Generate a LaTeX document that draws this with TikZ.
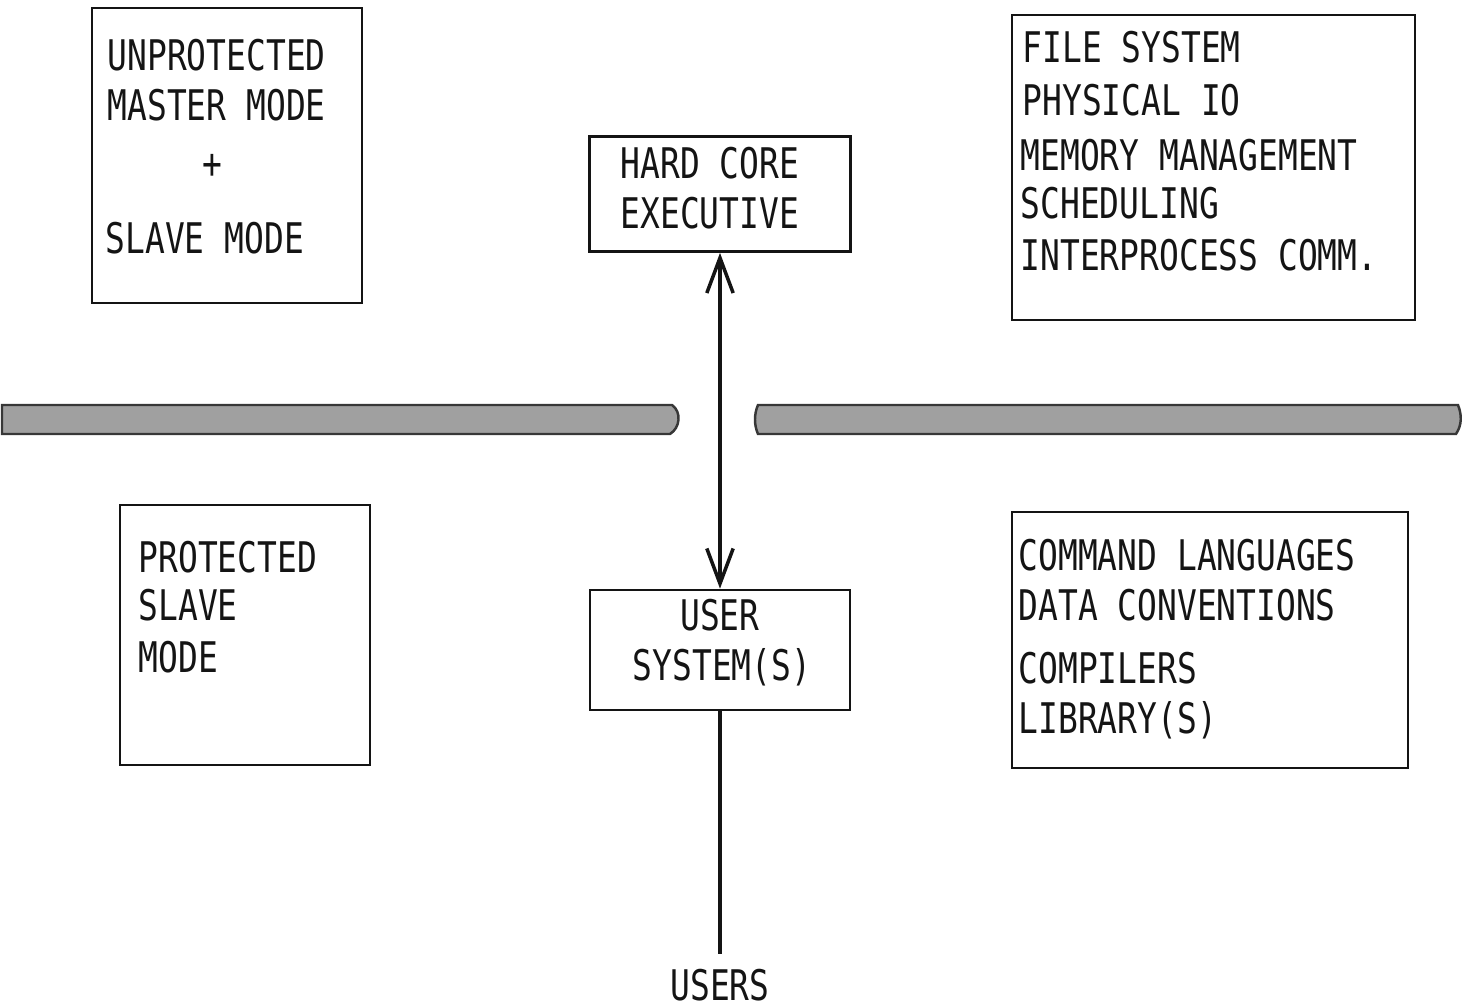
\documentclass[tikz,border=0pt]{standalone}
\usepackage{fontspec}
\setmainfont{DejaVu Sans Mono}[FakeStretch=0.78]
\usepackage{tikz}
\usetikzlibrary{calc}
\usetikzlibrary{arrows.meta}
\usetikzlibrary{positioning}
\definecolor{ink}{RGB}{20, 20, 20}
\definecolor{shade}{RGB}{160, 160, 160}

\tikzset{
    blockbox/.style={draw=ink, line width=0.75pt, inner sep=0pt},
    label/.style={anchor=base west, inner sep=0pt, text=ink,
                  font=\fontsize{12}{14}\selectfont},
    barrier/.style={draw=ink!85, line width=0.7pt, fill=shade},
}

\begin{document}
\begin{tikzpicture}[x=0.01cm, y=-0.01cm]
            % Frame
            \useasboundingbox (0, 0) rectangle (1462, 1005);
            % Master mode box (upper left)
            \draw[ink, line width=0.75pt]                 (  92,   8) rectangle ( 362, 303);
            \node[label] (unprot) at ( 107,  70) {UNPROTECTED};
            \node[label] (master) at ( 107, 120) {MASTER MODE};
            \node[label, anchor=base] (plus) at ( 212, 178) {+};
            \node[label] (slave)  at ( 105, 253) {SLAVE MODE};
            % Executive services box (upper right)
            \draw[ink, line width=0.75pt]                 (1012,  15) rectangle (1415, 320);
            \node[label] (files)  at (1022,  62) {FILE SYSTEM};
            \node[label] (physio) at (1022, 115) {PHYSICAL IO};
            \node[label] (memory) at (1020, 170) {MEMORY MANAGEMENT};
            \node[label] (sched)  at (1020, 218) {SCHEDULING};
            \node[label] (ipc)    at (1020, 270) {INTERPROCESS COMM.};
            % Slave mode box (lower left)
            \draw[ink, line width=0.75pt]                 ( 120, 505) rectangle ( 370, 765);
            \node[label] (protd)  at ( 138, 572) {PROTECTED};
            \node[label] (pslave) at ( 138, 620) {SLAVE};
            \node[label] (pmode)  at ( 138, 672) {MODE};
            % User services box (lower right)
            \draw[ink, line width=0.75pt]                 (1012, 512) rectangle (1408, 768);
            \node[label] (cmdlang) at (1018, 570) {COMMAND LANGUAGES};
            \node[label] (dataconv) at (1018, 620) {DATA CONVENTIONS};
            \node[label] (compil)  at (1018, 683) {COMPILERS};
            \node[label] (libs)    at (1018, 733) {LIBRARY(S)};
            % Protection barrier
            \draw[barrier] (   2, 405) -- ( 672, 405) .. controls ( 682, 412) and ( 680, 428) .. ( 670, 434)
                           -- (   2, 434) -- cycle;
            \draw[barrier] ( 758, 405) -- (1458, 405) .. controls (1462, 415) and (1462, 425) .. (1456, 434)
                           -- ( 758, 434) .. controls ( 754, 425) and ( 754, 414) .. ( 758, 405) -- cycle;
            % Centre column
            \node[blockbox, minimum width=2.61cm, minimum height=1.15cm] (hce) at ( 720, 194) {};
            \node[label] (hard) at ( 620, 178) {HARD CORE};
            \node[label] (exec) at ( 620, 228) {EXECUTIVE};
            \node[blockbox, minimum width=2.60cm, minimum height=1.20cm] (usr) at ( 720, 650) {};
            \node[label, anchor=base] (usrone) at ( 720, 630) {USER};
            \node[label, anchor=base] (usrtwo) at ( 722, 680) {SYSTEM(S)};
            \node[label, anchor=base, inner sep=4pt] (users) at ( 720, 1000) {USERS};
            \draw[ink, line width=1pt, {Straight Barb[length=10pt, width=7.5pt]}-{Straight Barb[length=10pt, width=7.5pt]}]
                 (hce.south) -- (usr.north);
            \draw[ink, line width=1pt] (usr.south) -- (users.north);
\end{tikzpicture}
\end{document}
